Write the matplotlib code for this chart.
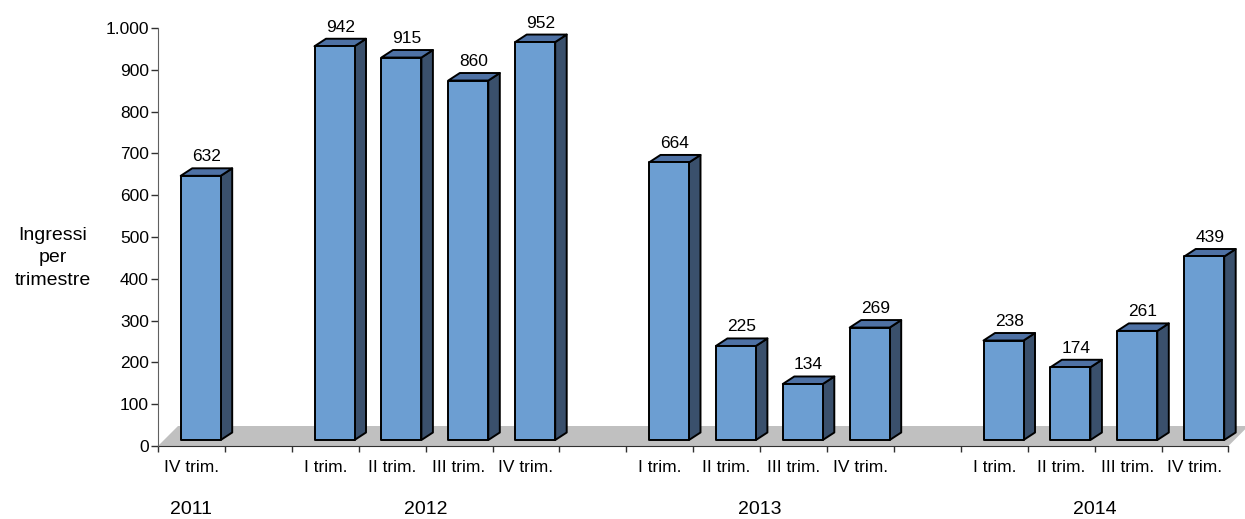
import numpy as np
import matplotlib.pyplot as plt
from matplotlib.patches import Polygon
from matplotlib.transforms import blended_transform_factory

plt.rcParams['font.family'] = ['Liberation Sans', 'DejaVu Sans']

# quarterly entries, empty slots separate the years
slot_labels = ['IV trim.', '',
               'I trim.', 'II trim.', 'III trim.', 'IV trim.', '',
               'I trim.', 'II trim.', 'III trim.', 'IV trim.', '',
               'I trim.', 'II trim.', 'III trim.', 'IV trim.']
values = [632, None,
          942, 915, 860, 952, None,
          664, 225, 134, 269, None,
          238, 174, 261, 439]
years = ['2011', '2012', '2013', '2014']
year_slots = [0, 3.5, 8.5, 13.5]
yticks = [0, 100, 200, 300, 400, 500, 600, 700, 800, 900, 1000]

front_col = '#6C9ED2'
side_col = '#3A506C'
top_col = '#4E71A4'
floor_col = '#C0C0C0'

W, H = 1245, 519
fig = plt.figure(figsize=(W / 100, H / 100), dpi=100)
ax = fig.add_axes([158 / W, 73 / H, 16 * 66.9 / W, 418 / H])
ax.set_xlim(0, 16)
ax.set_ylim(0, 1000)

# pixel -> data helpers
px_x = 1 / 66.9
px_y = 1000 / 418

# gray floor
fdx, fdy = 20 * px_x, 20 * px_y
floor = Polygon([(0, 0), (16, 0), (16 + fdx, fdy), (fdx, fdy)],
                closed=True, facecolor=floor_col, edgecolor='none',
                clip_on=False, zorder=1)
ax.add_patch(floor)

# 3D bars
bw = 40 * px_x
off = 22.7 * px_x
base = 6 * px_y
ddx, ddy = 11.5 * px_x, 7.5 * px_y
for i, v in enumerate(values):
    if v is None:
        continue
    x0 = i + off
    x1 = x0 + bw
    y0 = base
    y1 = base + v
    kw = dict(closed=True, edgecolor='black', linewidth=1.4,
              joinstyle='round', clip_on=False, zorder=3)
    ax.add_patch(Polygon([(x1, y0), (x1 + ddx, y0 + ddy), (x1 + ddx, y1 + ddy), (x1, y1)],
                         facecolor=side_col, **kw))
    ax.add_patch(Polygon([(x0, y1), (x1, y1), (x1 + ddx, y1 + ddy), (x0 + ddx, y1 + ddy)],
                         facecolor=top_col, **kw))
    ax.add_patch(Polygon([(x0, y0), (x1, y0), (x1, y1), (x0, y1)],
                         facecolor=front_col, **kw))
    ax.text((x0 + x1) / 2 + ddx / 2, y1 + ddy + 4 * px_y, f'{v}',
            ha='center', va='bottom', fontsize=12.5, zorder=4)

# axes styling
for s in ['top', 'right']:
    ax.spines[s].set_visible(False)
ax.spines['left'].set_color('#606060')
ax.spines['bottom'].set_color('#303030')
ax.spines['bottom'].set_zorder(2)

ax.set_yticks(yticks)
ax.set_yticklabels([f'{t:,}'.replace(',', '.') for t in yticks])
ax.tick_params(axis='y', length=5, width=1, color='#303030', pad=1.5, labelsize=12.5)

ax.set_xticks(np.arange(0, 17))
ax.set_xticklabels([])
ax.set_xticks(np.arange(16) + 0.5, minor=True)
ax.set_xticklabels(slot_labels, minor=True)
ax.tick_params(axis='x', which='major', length=4.5, width=1, color='#303030')
ax.tick_params(axis='x', which='minor', length=0, pad=10, labelsize=12.5)

trans = blended_transform_factory(ax.transData, ax.transAxes)
for yr, xs in zip(years, year_slots):
    ax.text(xs + 0.5, (446 - 509) / 418, yr, transform=trans,
            ha='center', va='center', fontsize=14)

fig.text(53 / W, 1 - 258 / H, 'Ingressi\nper\ntrimestre', ha='center', va='center',
         multialignment='center', linespacing=1.45, fontsize=14)

fig.savefig('out.png', dpi=100)
